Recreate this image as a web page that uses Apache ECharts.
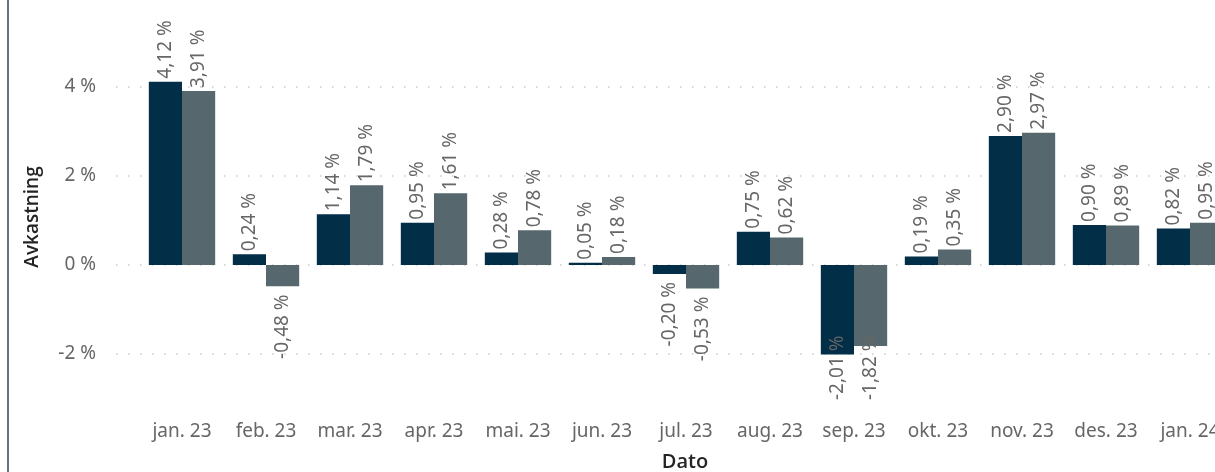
<!DOCTYPE html>
<html>
<head>
<meta charset="utf-8">
<script src="https://cdn.jsdelivr.net/npm/echarts@6/dist/echarts.min.js"></script>
<style>html,body{margin:0;padding:0;background:#fff;overflow:hidden}#c{width:1240px;height:472px}</style>
</head>
<body>
<div id="c"></div>
<script>
var categories = ['jan. 23','feb. 23','mar. 23','apr. 23','mai. 23','jun. 23','jul. 23','aug. 23','sep. 23','okt. 23','nov. 23','des. 23','jan. 24'];
var seriesA = [4.12, 0.24, 1.14, 0.95, 0.28, 0.05, -0.20, 0.75, -2.01, 0.19, 2.90, 0.90, 0.82];
var seriesB = [3.91, -0.48, 1.79, 1.61, 0.78, 0.18, -0.53, 0.62, -1.82, 0.35, 2.97, 0.89, 0.95];
var yTicks = [-2, 0, 2, 4];

var FONT = 'Noto Sans';
var TFONT = 'Open Sans';
var FS = 19;
var LABEL_BOTTOM = 400;

function fmt(v){ return v.toFixed(2).replace('.', ',') + ' %'; }

function mkData(arr){
  return arr.map(function(v){
    return {
      value: v,
      label: v >= 0
        ? {position: 'top', align: 'left', verticalAlign: 'middle', rotate: 90, distance: 3}
        : {position: 'bottom', align: 'right', verticalAlign: 'middle', rotate: 90, distance: 8}
    };
  });
}

function mkSeries(name, arr, color){
  return {
    name: name, type: 'bar', xAxisIndex: 1, yAxisIndex: 1,
    data: mkData(arr),
    itemStyle: {color: color},
    barGap: 0, barCategoryGap: '21%',
    label: {show: true, color: '#666', fontFamily: FONT, fontSize: FS,
      formatter: function(p){ return fmt(p.value); }},
    labelLayout: function(p){
      var v = arr[p.dataIndex];
      if (v >= 0) return {};
      var r = p.labelRect;
      var len = Math.max(r.width, r.height);
      var barBottom = p.rect.y + p.rect.height;
      var top = barBottom + 8;
      if (top + len > LABEL_BOTTOM) return {y: LABEL_BOTTOM - len};
      return {};
    }
  };
}

var chart = echarts.init(document.getElementById('c'));
chart.setOption({
  animation: false,
  grid: [
    {left: 116, right: 0, top: 87, bottom: 118},
    {left: 140, right: 8, top: 42.5, bottom: 73.5}
  ],
  xAxis: [
    {type: 'category', gridIndex: 0, data: categories, show: false},
    {type: 'category', gridIndex: 1, data: categories,
     axisLine: {show: false, onZero: false}, axisTick: {show: false},
     axisLabel: {color: '#666', fontFamily: FONT, fontSize: FS, margin: 24, interval: 0}}
  ],
  yAxis: [
    {type: 'value', gridIndex: 0, min: yTicks[0], max: yTicks[yTicks.length-1], interval: 2,
     axisLine: {show: false}, axisTick: {show: false},
     axisLabel: {color: '#666', fontFamily: FONT, fontSize: FS, margin: 20,
       formatter: function(v){ return v + ' %'; }},
     splitLine: {show: true, lineStyle: {color: '#cccccc', width: 1.5, type: [1.5, 10.5]}}},
    {type: 'value', gridIndex: 1, min: -3, max: 5, show: false, splitLine: {show: false}}
  ],
  series: [
    mkSeries('A', seriesA, '#022e48'),
    mkSeries('B', seriesB, '#56686e')
  ],
  graphic: [
    {type: 'rect', shape: {x: 7, y: 0, width: 2, height: 472}, style: {fill: '#66737b'}},
    {type: 'text', x: 33, y: 217, rotation: Math.PI/2,
     style: {text: 'Avkastning', fontFamily: TFONT, fontSize: 19, fontWeight: 600, fill: '#252423', align: 'center', verticalAlign: 'middle'}},
    {type: 'text', x: 685, y: 462,
     style: {text: 'Dato', fontFamily: TFONT, fontSize: 20, fontWeight: 600, fill: '#252423', align: 'center', verticalAlign: 'middle'}}
  ]
});
</script>
</body>
</html>
